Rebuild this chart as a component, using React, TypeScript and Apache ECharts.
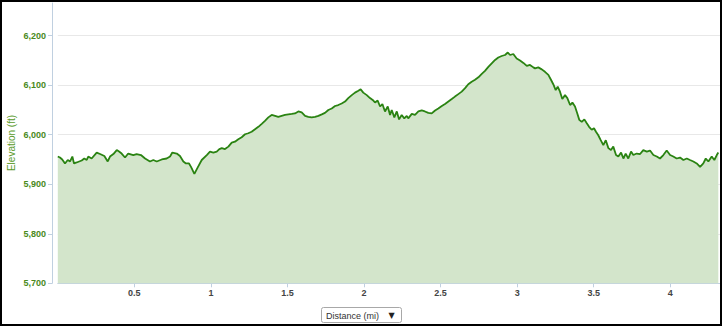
import React, { useEffect, useRef } from "react";
import * as echarts from "echarts";

// Distance (mi) and elevation (ft), in four stretches
const distance1 = [0, 0.014, 0.029, 0.047, 0.065, 0.08, 0.095, 0.106, 0.123, 0.156, 0.173, 0.189, 0.199, 0.221, 0.254, 0.276, 0.304, 0.326, 0.341, 0.363, 0.385, 0.4, 0.417, 0.439, 0.46, 0.493, 0.515, 0.543, 0.57, 0.602, 0.624, 0.646, 0.679, 0.711, 0.733, 0.748, 0.777, 0.798, 0.82, 0.837, 0.857, 0.87, 0.892, 0.914, 0.94, 0.973, 0.994, 1.016, 1.038, 1.055];
const elevation1 = [5956, 5954, 5950, 5942, 5949, 5946, 5956, 5942, 5944, 5948, 5952, 5949, 5956, 5952, 5964, 5961, 5957, 5946, 5956, 5961, 5969, 5966, 5962, 5954, 5962, 5959, 5961, 5959, 5952, 5946, 5949, 5946, 5950, 5952, 5956, 5964, 5962, 5957, 5946, 5942, 5942, 5935, 5921, 5934, 5949, 5959, 5966, 5964, 5966, 5971];

const distance2 = [1.071, 1.092, 1.114, 1.136, 1.157, 1.179, 1.201, 1.223, 1.244, 1.266, 1.288, 1.31, 1.332, 1.353, 1.375, 1.397, 1.419, 1.44, 1.462, 1.484, 1.506, 1.528, 1.549, 1.571, 1.593, 1.615, 1.636, 1.658, 1.68, 1.702, 1.724, 1.745, 1.767, 1.789, 1.811, 1.832, 1.854, 1.876, 1.897, 1.92, 1.941, 1.963, 1.978, 1.995, 2.018, 2.039, 2.061];
const elevation2 = [5973, 5971, 5976, 5984, 5986, 5991, 5995, 6001, 6003, 6006, 6011, 6016, 6022, 6028, 6035, 6040, 6038, 6036, 6038, 6040, 6041, 6042, 6043, 6047, 6045, 6038, 6036, 6035, 6036, 6038, 6041, 6044, 6050, 6053, 6058, 6060, 6063, 6067, 6074, 6080, 6085, 6089, 6092, 6085, 6080, 6074, 6069];

const distance3 = [2.072, 2.089, 2.105, 2.12, 2.137, 2.155, 2.17, 2.181, 2.198, 2.214, 2.229, 2.246, 2.263, 2.279, 2.289, 2.312, 2.333, 2.355, 2.377, 2.398, 2.42, 2.442, 2.464, 2.485, 2.508, 2.529, 2.551, 2.573, 2.594, 2.616, 2.638, 2.66, 2.681, 2.703, 2.725, 2.747, 2.769, 2.79, 2.812, 2.834, 2.856, 2.877, 2.899, 2.921, 2.939, 2.954, 2.975, 2.997, 3.019, 3.041, 3.063, 3.084, 3.106];
const elevation3 = [6065, 6069, 6057, 6062, 6047, 6057, 6040, 6050, 6035, 6047, 6031, 6040, 6033, 6038, 6033, 6042, 6040, 6047, 6049, 6047, 6044, 6043, 6049, 6053, 6058, 6062, 6067, 6072, 6077, 6082, 6087, 6094, 6102, 6107, 6111, 6116, 6123, 6129, 6137, 6144, 6151, 6156, 6159, 6161, 6166, 6161, 6163, 6154, 6150, 6145, 6139, 6141, 6136];

const distance4 = [3.117, 3.138, 3.161, 3.182, 3.204, 3.221, 3.236, 3.252, 3.265, 3.28, 3.295, 3.313, 3.328, 3.346, 3.361, 3.378, 3.393, 3.406, 3.422, 3.439, 3.455, 3.47, 3.487, 3.502, 3.515, 3.53, 3.546, 3.563, 3.579, 3.596, 3.613, 3.628, 3.646, 3.661, 3.679, 3.694, 3.709, 3.726, 3.744, 3.759, 3.781, 3.803, 3.824, 3.847, 3.868, 3.89, 3.912, 3.933, 3.955, 3.977, 3.999, 4.02, 4.042, 4.064, 4.086, 4.108, 4.129, 4.151, 4.173, 4.195, 4.216, 4.232, 4.249, 4.271, 4.288, 4.304, 4.314];
const elevation4 = [6134, 6136, 6132, 6127, 6121, 6111, 6102, 6090, 6097, 6087, 6072, 6080, 6074, 6060, 6065, 6057, 6043, 6030, 6026, 6031, 6023, 6016, 6010, 6013, 6006, 5999, 5989, 5979, 5989, 5973, 5969, 5976, 5959, 5956, 5964, 5952, 5962, 5952, 5966, 5959, 5962, 5961, 5969, 5966, 5968, 5959, 5956, 5952, 5959, 5968, 5959, 5956, 5952, 5954, 5949, 5952, 5949, 5946, 5942, 5935, 5942, 5952, 5946, 5956, 5949, 5959, 5964];

const distances = [...distance1, ...distance2, ...distance3, ...distance4];
const elevations = [...elevation1, ...elevation2, ...elevation3, ...elevation4];

const yMin = 5700;
const yMax = 6266;
const yStep = 100;
const xMin = 0;
const xMax = 4.325;
const xStep = 0.5;

const yTitle = "Elevation (ft)";
const xSelector = "Distance (mi)";

const FONT = "'Liberation Sans', Arial, sans-serif";

export default function App() {
  const ref = useRef<HTMLDivElement>(null);

  useEffect(() => {
    if (!ref.current) return;
    const chart = echarts.init(ref.current, undefined, { renderer: "svg" });
    const n = Math.min(distances.length, elevations.length);
    const data: [number, number][] = [];
    for (let i = 0; i < n; i++) data.push([distances[i], elevations[i]]);

    chart.setOption({
      animation: false,
      grid: { left: 55.8, right: 0, top: 1, bottom: 40.7, containLabel: false },
      xAxis: {
        type: "value",
        min: xMin,
        max: xMax,
        interval: xStep,
        axisLine: { show: true, onZero: false, lineStyle: { color: "#C0D0E0", width: 1 } },
        axisTick: { show: true, length: 4, lineStyle: { color: "#C0D0E0" } },
        axisLabel: {
          showMinLabel: false,
          showMaxLabel: false,
          margin: 5,
          color: "#444",
          fontFamily: FONT,
          fontSize: 9,
          fontWeight: "bold",
        },
        splitLine: { show: false },
      },
      yAxis: {
        type: "value",
        min: yMin,
        max: yMax,
        interval: yStep,
        offset: 5.8,
        axisLine: { show: true, onZero: false, lineStyle: { color: "#C0D0E0", width: 1 } },
        axisTick: { show: true, length: 4, lineStyle: { color: "#C0D0E0" } },
        axisLabel: {
          showMaxLabel: false,
          margin: 6,
          color: "#4a8a1c",
          fontFamily: FONT,
          fontSize: 9,
          fontWeight: "bold",
          formatter: (v: number) => (v % yStep === 0 ? v.toLocaleString("en-US") : ""),
        },
        splitLine: { show: true, showMaxLine: false, lineStyle: { color: "#E8E8E8", width: 1 } },
      },
      graphic: [
        {
          type: "text",
          x: 9,
          y: 141,
          rotation: Math.PI / 2,
          style: {
            text: yTitle,
            fill: "#5a9a2a",
            font: `10px ${FONT}`,
            align: "center",
            verticalAlign: "middle",
          },
        },
        {
          type: "rect",
          shape: { x: 319.5, y: 305.5, width: 80, height: 15, r: 2 },
          style: { fill: "#fff", stroke: "#A8A8A8", lineWidth: 1 },
        },
        {
          type: "text",
          x: 324,
          y: 313.5,
          style: {
            text: xSelector,
            fill: "#333",
            font: `9px ${FONT}`,
            align: "left",
            verticalAlign: "middle",
          },
        },
        {
          type: "text",
          x: 389.5,
          y: 313.5,
          style: {
            text: "▼",
            fill: "#222",
            font: `8px 'DejaVu Sans', sans-serif`,
            align: "center",
            verticalAlign: "middle",
          },
        },
      ],
      series: [
        {
          type: "line",
          data,
          showSymbol: false,
          symbol: "none",
          lineStyle: { color: "#2a8312", width: 1.8 },
          itemStyle: { color: "#2a8312" },
          areaStyle: { color: "#d3e5cb", opacity: 1, origin: "start" },
          z: 3,
        },
      ],
    });
    return () => chart.dispose();
  }, []);

  return (
    <div
      style={{
        position: "absolute",
        left: 0,
        top: 0,
        width: 722,
        height: 326,
        boxSizing: "border-box",
        border: "2px solid #000",
        background: "#fff",
        overflow: "hidden",
      }}
    >
      <div ref={ref} style={{ width: 718, height: 322 }} />
    </div>
  );
}
